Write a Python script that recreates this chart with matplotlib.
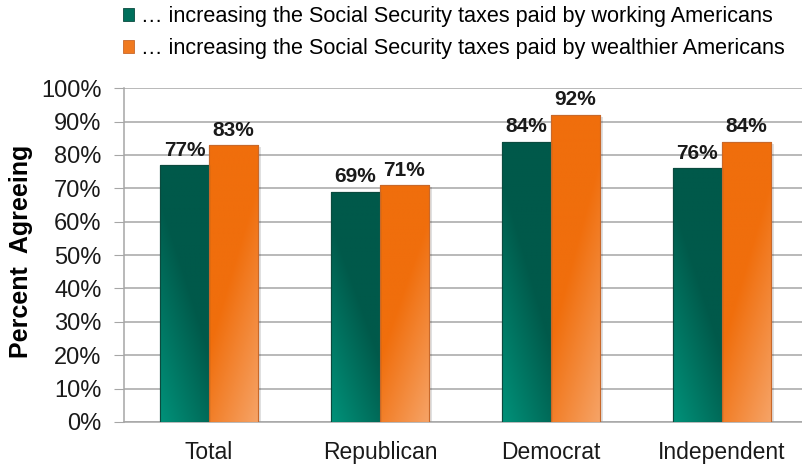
import numpy as np
import matplotlib.pyplot as plt
import matplotlib.colors as mcolors

plt.rcParams['font.family'] = ['Liberation Sans', 'DejaVu Sans']

# Data
categories = ['Total', 'Republican', 'Democrat', 'Independent']
working = [77, 69, 84, 76]
wealthier = [83, 71, 92, 84]
series_labels = ['\u2026 increasing the Social Security taxes paid by working Americans',
                 '\u2026 increasing the Social Security taxes paid by wealthier Americans']

green_dark, green_light = '#00594a', '#00927a'
orange_dark, orange_light = '#f06e0c', '#f6a468'

fig = plt.figure(figsize=(8.03, 4.65), dpi=100)
ax = fig.add_axes([0.154, 0.0925, 0.851, 0.718])

x = np.arange(len(categories))
w = 0.287
bars1 = ax.bar(x - w / 2, working, w, color=green_dark, edgecolor='#0b4a3e', linewidth=0.8, zorder=3)
bars2 = ax.bar(x + w / 2, wealthier, w, color=orange_dark, edgecolor='#c8682a', linewidth=0.8, zorder=3)


def add_gradient(bar, c_dark, c_light, flip):
    # diagonal gradient: dark at top, lighter toward a bottom corner
    bx, by = bar.get_x(), bar.get_y()
    bw, bh = bar.get_width(), bar.get_height()
    yy, xx = np.mgrid[0:1:200j, 0:1:60j]
    xf = xx if flip else 1 - xx
    t = np.clip(((1 - yy) * 0.75 + xf * 0.45 - 0.55) / 0.65, 0, 1)
    c0 = np.array(mcolors.to_rgb(c_dark))
    c1 = np.array(mcolors.to_rgb(c_light))
    img = c0 + (c1 - c0) * t[..., None]
    im = ax.imshow(img, extent=(bx, bx + bw, by + bh, by), aspect='auto',
                   origin='upper', zorder=3.5, interpolation='bilinear')
    im.set_clip_path(bar)
    # soft shadow on the right
    ax.bar(bx + bw + 0.006, bh - 0.6, 0.012, bottom=0, align='edge',
           color='#000000', alpha=0.12, zorder=2.5, linewidth=0)


for b in bars1:
    add_gradient(b, green_dark, green_light, flip=False)
for b in bars2:
    add_gradient(b, orange_dark, orange_light, flip=True)

# redraw outlines on top of gradients
for b, ec in [(bb, '#0b4a3e') for bb in bars1] + [(bb, '#c8682a') for bb in bars2]:
    ax.add_patch(plt.Rectangle((b.get_x(), b.get_y()), b.get_width(), b.get_height(),
                               fill=False, edgecolor=ec, linewidth=0.8, zorder=4))

for xi, v in zip(x - w / 2, working):
    ax.text(xi, v + 1.6, f'{v}%', ha='center', va='bottom', fontsize=15,
            fontweight='bold', color='#1a1a1a', zorder=5)
for xi, v in zip(x + w / 2, wealthier):
    ax.text(xi, v + 1.6, f'{v}%', ha='center', va='bottom', fontsize=15,
            fontweight='bold', color='#1a1a1a', zorder=5)

ax.set_xlim(-0.5, len(categories) - 0.5)
ax.set_ylim(0, 100)
ax.set_yticks(np.arange(0, 101, 10))
ax.set_yticklabels([f'{v}%' for v in range(0, 101, 10)])
ax.set_xticks(x)
ax.set_xticklabels(categories)
ax.tick_params(axis='y', labelsize=17, length=7, color='#a6a6a6', pad=9, labelcolor='#1a1a1a')
ax.tick_params(axis='x', labelsize=16.5, length=0, pad=14, labelcolor='#1a1a1a')
ax.yaxis.grid(True, color='#a6a6a6', linewidth=1.1, zorder=0)
ax.set_axisbelow(True)
for s in ['top', 'right']:
    ax.spines[s].set_visible(False)
ax.spines['left'].set_color('#a6a6a6')
ax.spines['bottom'].set_color('#a6a6a6')
ax.spines['left'].set_linewidth(1.1)
ax.spines['bottom'].set_linewidth(1.1)

ax.set_ylabel('Percent  Agreeing', fontsize=18, fontweight='bold')
ax.yaxis.set_label_coords(-0.132, 0.51)

h1 = plt.Rectangle((0, 0), 1, 1, facecolor='#00705c', edgecolor='#0b4a3e', linewidth=0.6)
h2 = plt.Rectangle((0, 0), 1, 1, facecolor='#f07a20', edgecolor='#c8682a', linewidth=0.6)
fig.legend([h1, h2], series_labels, loc='upper left', bbox_to_anchor=(0.143, 1.005),
           frameon=False, fontsize=15.6, handlelength=0.5, handleheight=0.5,
           handletextpad=0.3, labelspacing=0.5, borderaxespad=0)

fig.savefig('out.png', dpi=100)
